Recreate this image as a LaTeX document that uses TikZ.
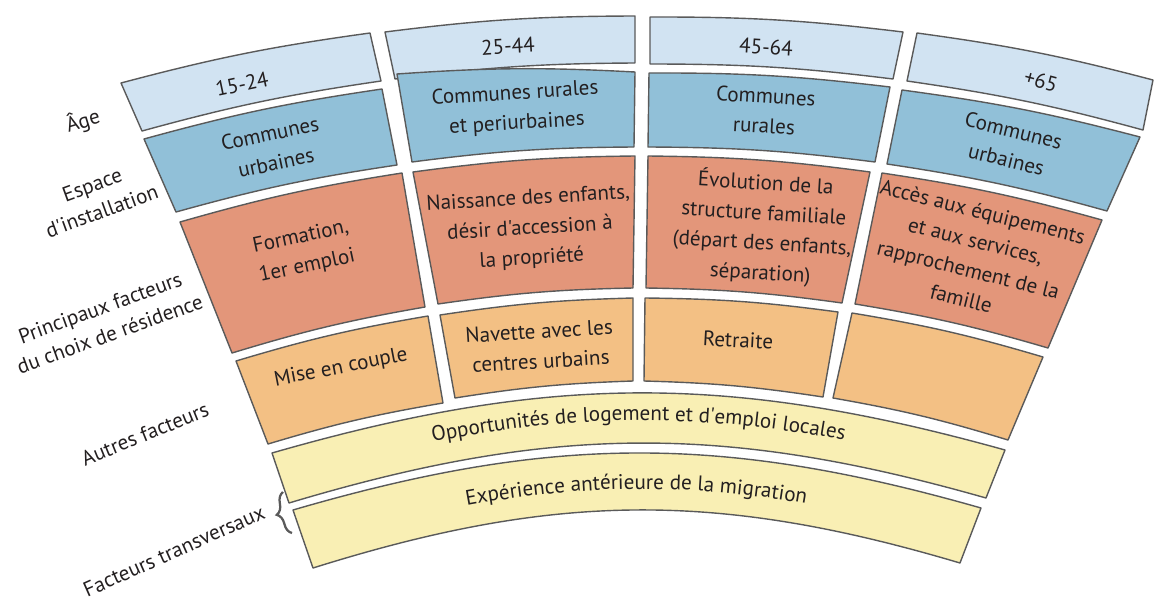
\documentclass[tikz,border=0pt]{standalone}
\usepackage{fontspec}
\setmainfont{PT Sans}[Ligatures=TeXOff]
\usetikzlibrary{decorations.text,decorations.pathreplacing}
\definecolor{agebg}{RGB}{209,227,242}
\definecolor{espbg}{RGB}{145,192,216}
\definecolor{facbg}{RGB}{227,150,122}
\definecolor{autbg}{RGB}{243,192,132}
\definecolor{trvbg}{RGB}{249,239,180}
\definecolor{cellline}{RGB}{90,90,90}
\definecolor{txt}{RGB}{35,31,32}
\def\cell[#1](#2)(#3)(#4)(#5){\draw[box, #1] (#2) to[bend left=3.5] (#3) -- (#4) to[bend right=3.5] (#5) -- cycle;}
\def\cellfont{\fontsize{12}{17}\selectfont}

\begin{document}
\begin{tikzpicture}[x=0.2mm, y=-0.2mm,
		box/.style={draw=cellline, line width=0.28mm, line join=round},
		lbl/.style={align=center, text=txt, font=\cellfont, inner sep=0pt},
		rowlbl/.style={lbl, font=\fontsize{12}{16}\selectfont}]
			%%%%% START %%%%%
			\useasboundingbox (0,0) rectangle (1154,601);
			
			\cell[fill=agebg](121,83)(370,33)(381,81)(142,131)
			\cell[fill=agebg](385,32)(635,16)(635,63)(395,79)
			\cell[fill=agebg](650,17)(903,32)(893,79)(650,64)
			\cell[fill=agebg](917,33)(1153,80)(1143,130)(907,81)
			
			\cell[fill=espbg](144,139)(382,89)(397,165)(176,212)
			\cell[fill=espbg](397,74)(635,72)(634,147)(412,162)
			\cell[fill=espbg](649,73)(890,87)(875,162)(648,147)
			\cell[fill=espbg](902,90)(1140,137)(1107,211)(887,164)
			
			\cell[fill=facbg](180,222)(402,173)(425,307)(232,353)
			\cell[fill=facbg](413,172)(635,156)(633,288)(438,304)
			\cell[fill=facbg](648,156)(870,172)(842,303)(646,288)
			\cell[fill=facbg](882,173)(1102,220)(1048,348)(855,304)
			
			\cell[fill=autbg](236,361)(428,316)(443,403)(268,444)
			\cell[fill=autbg](440,315)(633,298)(633,381)(455,398)
			\cell[fill=autbg](645,298)(838,312)(823,397)(644,381)
			\cell[fill=autbg](852,313)(1043,357)(1008,440)(833,398)
			
			\draw[box, fill=trvbg] (272,453) to[bend left=15.8] (1005,450) -- (986,498) to[bend right=16.3] (289,503) -- cycle;
			\draw[box, fill=trvbg] (293,510) to[bend left=16.1] (981,508) -- (960,563) to[bend right=17] (313,568) -- cycle;
			
			\node[lbl, rotate=12] (age1) at (242,84) {15-24};
			\node[lbl, rotate=3.5] (age2) at (508,46) {25-44};
			\node[lbl, rotate=-3.5] (age3) at (766,47) {45-64};
			\node[lbl, rotate=-15] (age4) at (1041,81) {+65};
			
			\node[lbl, rotate=12] (esp1) at (273,148) {Communes\\urbaines};
			\node[lbl, rotate=3.5] (esp2) at (516,109) {Communes rurales\\et periurbaines};
			\node[lbl, rotate=-3.5] (esp3) at (765,111) {Communes\\rurales};
			\node[lbl, rotate=-14] (esp4) at (1010,145) {Communes\\urbaines};
			
			\node[lbl, rotate=12] (fac1) at (304,252) {Formation,\\1er emploi};
			\node[lbl, rotate=3.5] (fac2) at (530,229) {Naissance des enfants,\\désir d'accession à\\la propriété};
			\node[lbl, rotate=-3.5] (fac3) at (763,228) {Évolution de la\\structure familiale\\(départ des enfants,\\séparation)};
			\node[lbl, rotate=-14] (fac4) at (972,255) {Accès aux équipements\\et aux services,\\rapprochement de la\\famille};
			
			\node[lbl, rotate=11] (aut1) at (341,368) {Mise en couple};
			\node[lbl, rotate=3.5] (aut2) at (540,346) {Navette avec les\\centres urbains};
			\node[lbl, rotate=-3] (aut3) at (738,340) {Retraite};
			
			\path[decorate, decoration={text along path, text align=center, text color=txt,
				text={|\cellfont|Opportunités de logement et d'emploi locales}}] (281,479) to[bend left=15.75] (996,476);
			\path[decorate, decoration={text along path, text align=center, text color=txt,
				text={|\cellfont|Expérience antérieure de la migration}}] (305,546) to[bend left=16.4] (968,542);
			
			\node[rowlbl, rotate=17] (lage) at (83,121) {Âge};
			\node[rowlbl, rotate=20] (lesp) at (97,198) {Espace\\d'installation};
			\node[rowlbl, rotate=20] (lfac) at (105,321) {Principaux facteurs\\du choix de résidence};
			\node[rowlbl, rotate=22] (laut) at (145,434) {Autres facteurs};
			\node[rowlbl, rotate=24] (ltrv) at (174,551) {Facteurs transversaux};
			
			\draw[draw=cellline, line width=0.45mm, decorate, decoration={brace, amplitude=2.2mm}] (292,533) -- (283,492);
			
			%%%%% END %%%%%
		\end{tikzpicture}
\end{document}
